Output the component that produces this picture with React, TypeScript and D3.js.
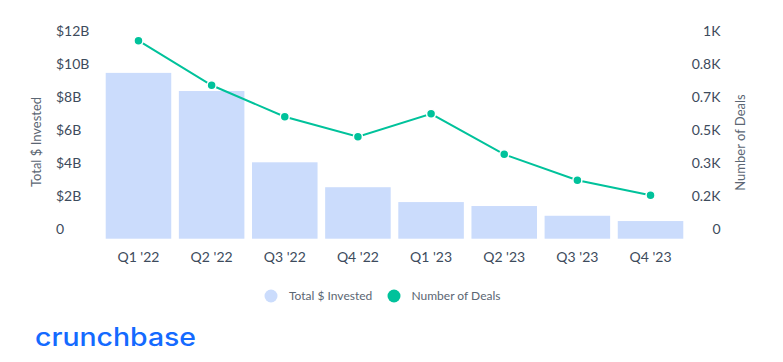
import React from "react";
import * as d3 from "d3";

const categories = ["Q1 '22", "Q2 '22", "Q3 '22", "Q4 '22", "Q1 '23", "Q2 '23", "Q3 '23", "Q4 '23"];
const invested = [10.05, 8.95, 4.63, 3.12, 2.22, 1.98, 1.39, 1.07]; // $B
const deals = [1000, 775, 616, 515, 631, 426, 295, 219];
const leftTicks = [0, 2, 4, 6, 8, 10, 12];
const rightTicks = [0, 1000 / 6, 2000 / 6, 500, 4000 / 6, 5000 / 6, 1000];

const W = 783;
const H = 362;
const plotLeft = 101.9;
const plotRight = 687.1;
const plotTop = 40.7;
const plotBottom = 238.7;

const font = "Lato, 'Noto Sans', sans-serif";
const barColor = "#cbdcfc";
const lineColor = "#00c29b";
const tickColor = "#3d4b5c";
const titleColor = "#5b6673";

export default function App() {
  const x = d3.scaleBand<string>().domain(categories).range([plotLeft, plotRight]).paddingInner(0.104).paddingOuter(0.052);
  const yL = d3.scaleLinear().domain([0, 12]).range([plotBottom, plotTop]);
  const yR = d3.scaleLinear().domain([0, 1000]).range([plotBottom, plotTop]);
  const line = d3
    .line<number>()
    .x((_, i) => (x(categories[i]) as number) + x.bandwidth() / 2)
    .y((d) => yR(d));
  const fmtR = (v: number) => (v === 0 ? "0" : v === 1000 ? "1K" : (v / 1000).toFixed(1) + "K");
  const fmtL = (v: number) => (v === 0 ? "0" : "$" + v + "B");

  return (
    <svg width={W} height={H} style={{ position: "absolute", left: 0, top: 0, background: "#fff" }} fontFamily={font}>
      <rect x={0} y={0} width={W} height={H} fill="#fff" />
      {/* bars */}
      {invested.map((v, i) => (
        <rect
          key={categories[i]}
          x={x(categories[i])}
          y={yL(v)}
          width={x.bandwidth()}
          height={plotBottom - yL(v)}
          fill={barColor}
        />
      ))}
      {/* line */}
      <path d={line(deals) || ""} fill="none" stroke={lineColor} strokeWidth={2} />
      {deals.map((v, i) => (
        <circle
          key={"d" + i}
          cx={(x(categories[i]) as number) + x.bandwidth() / 2}
          cy={yR(v)}
          r={4.5}
          fill={lineColor}
          stroke="#fff"
          strokeWidth={1.5}
        />
      ))}
      {/* left axis */}
      {leftTicks.map((t) => (
        <text key={"l" + t} x={56} y={yL(t) - 5} fontSize={14} fill={tickColor}>
          {fmtL(t)}
        </text>
      ))}
      {/* right axis */}
      {rightTicks.map((t) => (
        <text key={"r" + t} x={720.5} y={yR(t) - 5} fontSize={14} fill={tickColor} textAnchor="end">
          {fmtR(t)}
        </text>
      ))}
      {/* x axis */}
      {categories.map((c) => (
        <text key={"x" + c} x={(x(c) as number) + x.bandwidth() / 2} y={261.5} fontSize={14} fill={tickColor} textAnchor="middle">
          {c}
        </text>
      ))}
      {/* axis titles */}
      <text transform="translate(40.5,142) rotate(-90)" textAnchor="middle" fontSize={13} fill={titleColor}>
        Total $ Invested
      </text>
      <text transform="translate(744.5,142.5) rotate(-90)" textAnchor="middle" fontSize={13} fill={titleColor}>
        Number of Deals
      </text>
      {/* legend */}
      <circle cx={271} cy={296} r={6.5} fill={barColor} />
      <text x={289} y={300} fontSize={12} fill={titleColor}>
        Total $ Invested
      </text>
      <circle cx={394} cy={296} r={6.5} fill={lineColor} />
      <text x={411.5} y={300} fontSize={12} fill={titleColor}>
        Number of Deals
      </text>
      {/* logo */}
      <text x={35} y={345.5} fontSize={25} fontWeight={500} fill="#146aff" fontFamily="Inter, 'Noto Sans', sans-serif" textLength={161} lengthAdjust="spacingAndGlyphs">
        crunchbase
      </text>
    </svg>
  );
}
